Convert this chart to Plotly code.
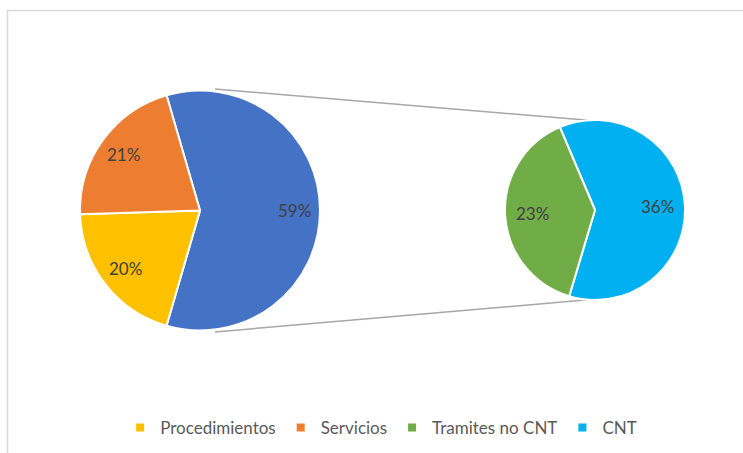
import math
import plotly.graph_objects as go

# Shares of the total, in percent
categories = ["Procedimientos", "Servicios", "Tramites no CNT", "CNT"]
values = [20, 21, 23, 36]
colors = ["#FFC000", "#ED7D31", "#70AD47", "#00B0F0"]
other_color = "#4472C4"

# The last two categories are grouped into the "other" slice of the main pie
main_labels = ["Otros", categories[0], categories[1]]
main_values = [values[2] + values[3], values[0], values[1]]
main_colors = [other_color, colors[0], colors[1]]
sub_labels = [categories[3], categories[2]]
sub_values = [values[3], values[2]]
sub_colors = [colors[3], colors[2]]

W, H = 743, 453
main_c, main_r = (200.0, 210.5), 120.0
sub_c, sub_r = (595.0, 210.0), 90.0

total = sum(main_values)
main_rot = 90 - main_values[0] / total * 180
sub_rot = -23

TEXT_FONT = dict(family="Lato, Calibri, sans-serif", size=17, color="#404040")
LEGEND_FONT = dict(family="Lato, Calibri, sans-serif", size=17, color="#595959")


def domain(c, r):
    cx, cy = c
    return dict(x=[(cx - r) / W, (cx + r) / W],
                y=[(H - cy - r) / H, (H - cy + r) / H])


def px_to_paper(x, y):
    return x / W, 1 - y / H


def slice_label_positions(vals, rot, c, r, frac):
    tot = sum(vals)
    pos = []
    start = rot
    for v in vals:
        span = v / tot * 360
        mid = start + span / 2  # clockwise from 12 o'clock
        ang = math.radians(90 - mid)
        x = c[0] + frac * r * math.cos(ang)
        y = c[1] - frac * r * math.sin(ang)
        pos.append((x, y))
        start += span
    return pos


def point_on(c, r, deg):
    a = math.radians(deg)
    return c[0] + r * math.cos(a), c[1] - r * math.sin(a)


fig = go.Figure()

fig.add_trace(go.Pie(
    labels=main_labels, values=main_values, sort=False, direction="clockwise",
    rotation=main_rot, domain=domain(main_c, main_r), textinfo="none",
    marker=dict(colors=main_colors, line=dict(color="white", width=2)),
    showlegend=False,
))
fig.add_trace(go.Pie(
    labels=sub_labels, values=sub_values, sort=False, direction="clockwise",
    rotation=sub_rot, domain=domain(sub_c, sub_r), textinfo="none",
    marker=dict(colors=sub_colors, line=dict(color="white", width=2)),
    showlegend=False,
))

# Legend entries
for name, col in zip(categories, colors):
    fig.add_trace(go.Scatter(
        x=[None], y=[None], mode="markers", name=name,
        marker=dict(symbol="square", size=8, color=col),
    ))

annotations = []
label_sets = [
    (main_values, main_rot, main_c, main_r, 0.79),
    (sub_values, sub_rot, sub_c, sub_r, 0.70),
]
for vals, rot, c, r, frac in label_sets:
    for (x, y), v in zip(slice_label_positions(vals, rot, c, r, frac), vals):
        px, py = px_to_paper(x, y)
        annotations.append(dict(x=px, y=py, xref="paper", yref="paper",
                                xanchor="center", yanchor="middle",
                                text=f"{v}%", showarrow=False, font=TEXT_FONT))

shapes = []
# Chart frame
shapes.append(dict(type="rect", xref="paper", yref="paper",
                   x0=7.5 / W, x1=1.05, y0=-0.05, y1=1 - 10.5 / H,
                   line=dict(color="#D9D9D9", width=1.5), fillcolor="rgba(0,0,0,0)",
                   layer="below"))
# Connector lines between the two pies
for a1, a2 in [(83, 94.5), (-83, -94.5)]:
    x0, y0 = point_on(main_c, main_r * 1.02, a1)
    x1, y1 = point_on(sub_c, sub_r, a2)
    p0 = px_to_paper(x0, y0)
    p1 = px_to_paper(x1, y1)
    shapes.append(dict(type="line", xref="paper", yref="paper",
                       x0=p0[0], y0=p0[1], x1=p1[0], y1=p1[1],
                       line=dict(color="#A6A6A6", width=1.5), layer="below"))

fig.update_layout(
    width=W, height=H,
    margin=dict(l=0, r=0, t=0, b=0),
    paper_bgcolor="white", plot_bgcolor="white",
    xaxis=dict(visible=False), yaxis=dict(visible=False),
    showlegend=True,
    legend=dict(orientation="h", x=0.513, xanchor="center", y=1 - 428 / H,
                yanchor="middle", font=LEGEND_FONT, itemwidth=30,
                traceorder="normal", bgcolor="rgba(0,0,0,0)"),
    annotations=annotations,
    shapes=shapes,
)

fig.write_html("out.html")
